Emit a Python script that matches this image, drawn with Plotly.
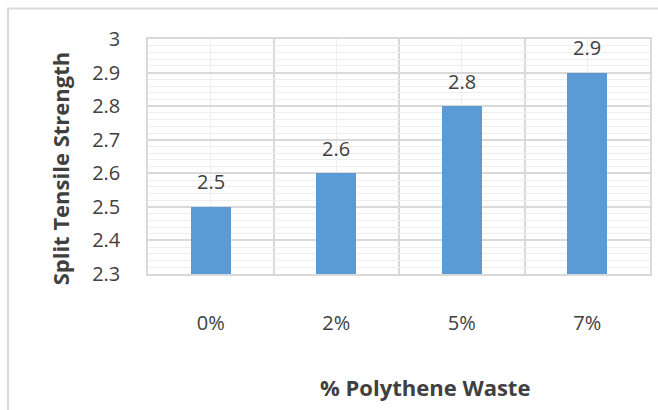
import plotly.graph_objects as go

# Split tensile strength for each polythene waste content
categories = ["0%", "2%", "5%", "7%"]
strength = [2.5, 2.6, 2.8, 2.9]
y_ticks = [2.3, 2.4, 2.5, 2.6, 2.7, 2.8, 2.9, 3.0]
y_tick_labels = ["2.3", "2.4", "2.5", "2.6", "2.7", "2.8", "2.9", "3"]

W, H = 658, 410
L, R, T, B = 148, 6, 39, 136
plot_w = W - L - R
plot_h = H - T - B

FONT = "Open Sans"
TEXT = "#404040"
BAR = "#5B9BD5"
MAJOR = "#D9D9D9"
MINOR = "#EEEEEE"

xpos = list(range(len(categories)))


def px_to_paper(px, py):
    return (px - L) / plot_w, (H - B - py) / plot_h


fig = go.Figure()
fig.add_trace(go.Bar(
    x=xpos,
    y=strength,
    width=0.315,
    marker=dict(color=BAR, line=dict(width=0)),
    hoverinfo="skip",
))

# value labels above each bar
for xi, v in zip(xpos, strength):
    fig.add_annotation(
        x=xi, y=v, xref="x", yref="y",
        text=f"{v:g}", showarrow=False,
        yanchor="middle", yshift=25,
        font=dict(family=FONT, size=20, color=TEXT),
    )

# axis titles
tx, ty = px_to_paper(426, 387)
fig.add_annotation(
    x=tx, y=ty, xref="paper", yref="paper",
    text="<b>% Polythene Waste</b>", showarrow=False,
    xanchor="center", yanchor="middle",
    font=dict(family=FONT, size=22, color=TEXT),
)
tx, ty = px_to_paper(60, 168)
fig.add_annotation(
    x=tx, y=ty, xref="paper", yref="paper",
    text="<b>Split Tensile Strength</b>", showarrow=False,
    textangle=-90, xanchor="center", yanchor="middle",
    font=dict(family=FONT, size=22, color=TEXT),
)

# outer chart border
x0, y0 = px_to_paper(7.5, 8.5)
x1, y1 = px_to_paper(700, 460)
fig.add_shape(
    type="rect", xref="paper", yref="paper",
    x0=x0, y0=y1, x1=x1, y1=y0,
    line=dict(color=MAJOR, width=2), fillcolor="rgba(0,0,0,0)",
    layer="below",
)

fig.update_layout(
    width=W, height=H,
    margin=dict(l=L, r=R, t=T, b=B, pad=0),
    paper_bgcolor="white",
    plot_bgcolor="white",
    showlegend=False,
    bargap=0,
    xaxis=dict(
        range=[-0.5, len(categories) - 0.5],
        tickmode="array",
        tickvals=xpos,
        ticktext=categories,
        ticks="",
        ticklabelstandoff=30,
        tickfont=dict(family=FONT, size=20, color=TEXT),
        showgrid=True,
        gridcolor=MINOR,
        gridwidth=1,
        minor=dict(
            tickmode="array",
            tickvals=[i - 0.5 for i in range(len(categories) + 1)],
            showgrid=True,
            gridcolor=MAJOR,
            gridwidth=1.5,
            ticks="",
        ),
        showline=True,
        linecolor=MAJOR,
        linewidth=1.5,
        mirror=True,
        zeroline=False,
        fixedrange=True,
    ),
    yaxis=dict(
        range=[2.3, 3.0],
        tickmode="array",
        tickvals=y_ticks,
        ticktext=y_tick_labels,
        ticks="",
        ticklabelstandoff=22,
        tickfont=dict(family=FONT, size=20, color=TEXT),
        showgrid=True,
        gridcolor=MAJOR,
        gridwidth=1.5,
        minor=dict(
            tickmode="linear",
            tick0=2.3,
            dtick=0.02,
            showgrid=True,
            gridcolor=MINOR,
            gridwidth=1,
            ticks="",
        ),
        showline=True,
        linecolor=MAJOR,
        linewidth=1.5,
        mirror=True,
        zeroline=False,
        fixedrange=True,
    ),
)

fig.write_html("out.html")
